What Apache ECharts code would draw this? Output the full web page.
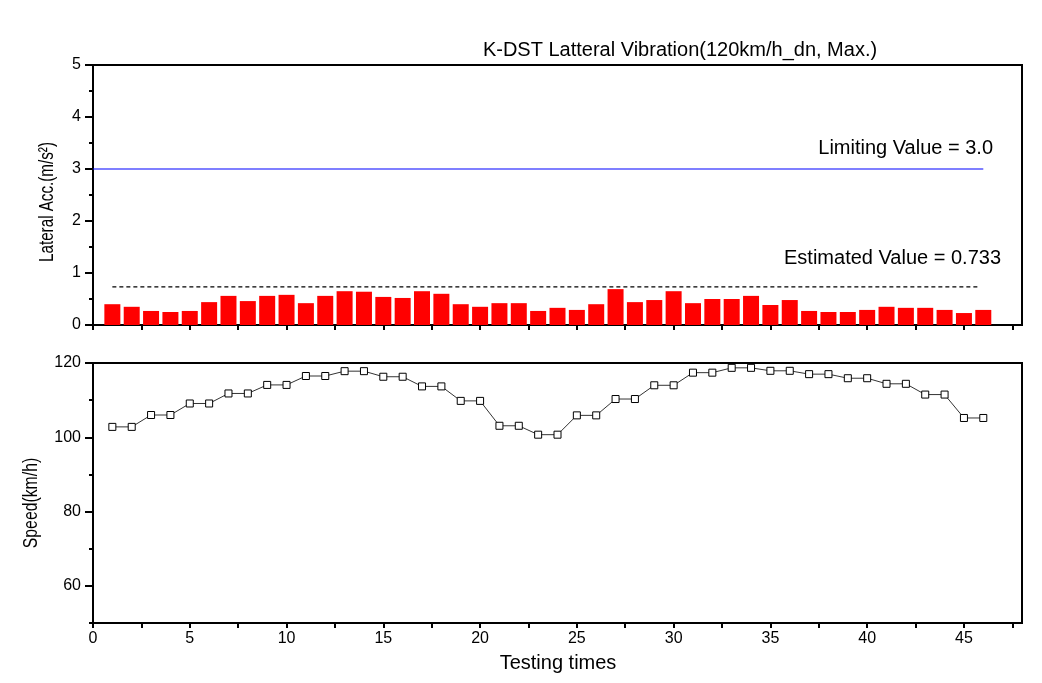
<!DOCTYPE html>
<html><head><meta charset="utf-8">
<script src="https://cdn.jsdelivr.net/npm/echarts@6/dist/echarts.min.js"></script>
<style>html,body{margin:0;padding:0;background:#fff}#c{width:1042px;height:683px}</style>
</head><body><div id="c"></div>
<script>
// ---- data ----
const testNo = [1,2,3,4,5,6,7,8,9,10,11,12,13,14,15,16,17,18,19,20,21,22,23,24,25,26,27,28,29,30,31,32,33,34,35,36,37,38,39,40,41,42,43,44,45,46];
const lateralAcc = [0.40,0.35,0.27,0.25,0.27,0.44,0.56,0.46,0.56,0.58,0.42,0.56,0.65,0.64,0.54,0.52,
  0.65,0.60,0.40,0.35,0.42,0.42,0.27,0.33,0.29,0.40,0.69,0.44,0.48,0.65,0.42,0.50,
  0.50,0.56,0.385,0.48,0.27,0.25,0.25,0.29,0.35,0.33,0.33,0.29,0.23,0.29];
const speed = [102.8,102.8,106.0,106.0,109.1,109.1,111.8,111.8,114.1,114.1,116.5,116.5,117.8,117.8,116.3,116.3,
  113.7,113.7,109.8,109.8,103.1,103.1,100.7,100.7,105.9,105.9,110.3,110.3,114.0,114.0,117.4,117.4,
  118.7,118.7,117.9,117.9,117.0,117.0,115.9,115.9,114.4,114.4,111.5,111.5,105.2,105.2];
const limitingValue = 3.0;
const limitingSpan = [0, 46];
const estimatedValue = 0.733;
const estimatedSpan = [1, 45.8];
const xLabelValues = [0,5,10,15,20,25,30,35,40,45];
const xTickValues = [0,2.5,5,7.5,10,12.5,15,17.5,20,22.5,25,27.5,30,32.5,35,37.5,40,42.5,45,47.5];
const accLabelValues = [0,1,2,3,4,5];
const speedLabelValues = [60,80,100,120];
const speedMinorTicks = [50,70,90,110];
const titleText = 'K-DST Latteral Vibration(120km/h_dn, Max.)';
const limitText = 'Limiting Value = ' + limitingValue.toFixed(1);
const estText = 'Estimated Value = ' + estimatedValue;

// ---- chart ----
const FONT = '"Liberation Sans", Arial, sans-serif';
const chart = echarts.init(document.getElementById('c'), null, {renderer: 'canvas'});
const axisLine = {show: true, lineStyle: {color: '#000', width: 2}};
const grids = [
  {left: 93, top: 65, width: 929, height: 260, show: true, borderColor: '#000', borderWidth: 2},
  {left: 93, top: 363, width: 929, height: 260, show: true, borderColor: '#000', borderWidth: 2}
];
const xAxes = [0, 1].map(i => ({
  type: 'value', gridIndex: i, min: 0, max: 48, interval: 2.5,
  axisLine: axisLine,
  axisTick: {show: true, customValues: xTickValues, length: 5, lineStyle: {color: '#000', width: 2}},
  axisLabel: {show: i === 1, customValues: xLabelValues, color: '#000', fontFamily: FONT, fontSize: 16, margin: 8},
  splitLine: {show: false}
}));
const yAxes = [
  {type: 'value', gridIndex: 0, min: 0, max: 5, interval: 1,
   axisLine: axisLine,
   axisTick: {show: true, length: 8, lineStyle: {color: '#000', width: 2}},
   minorTick: {show: true, splitNumber: 2, length: 4, lineStyle: {color: '#000', width: 2}},
   axisLabel: {color: '#000', fontFamily: FONT, fontSize: 16, margin: 12, customValues: accLabelValues},
   splitLine: {show: false}},
  {type: 'value', gridIndex: 1, min: 50, max: 120, interval: 10,
   axisLine: axisLine,
   axisTick: {show: true, customValues: speedLabelValues, length: 8, lineStyle: {color: '#000', width: 2}},
   axisLabel: {color: '#000', fontFamily: FONT, fontSize: 16, margin: 12, customValues: speedLabelValues},
   splitLine: {show: false}},
  {type: 'value', gridIndex: 1, min: 50, max: 120, interval: 10, position: 'left',
   axisLine: {show: false},
   axisTick: {show: true, customValues: speedMinorTicks, length: 4, lineStyle: {color: '#000', width: 2}},
   axisLabel: {show: false},
   splitLine: {show: false}}
];
const option = {
  backgroundColor: '#fff',
  animation: false,
  grid: grids,
  xAxis: xAxes,
  yAxis: yAxes,
  series: [
    {type: 'bar', xAxisIndex: 0, yAxisIndex: 0, barWidth: 16,
     data: testNo.map((n, i) => [n, lateralAcc[i]]),
     itemStyle: {color: '#ff0000'}},
    {type: 'line', name: 'limit', xAxisIndex: 0, yAxisIndex: 0, silent: true,
     data: limitingSpan.map(x => [x, limitingValue]),
     symbol: 'none', lineStyle: {color: '#0000ff', width: 1.2, type: 'solid'}, z: 3},
    {type: 'line', name: 'estimate', xAxisIndex: 0, yAxisIndex: 0, silent: true,
     data: estimatedSpan.map(x => [x, estimatedValue]),
     symbol: 'none', lineStyle: {color: '#000000', width: 1.2, type: [4, 3]}, z: 3},
    {type: 'line', xAxisIndex: 1, yAxisIndex: 1,
     data: testNo.map((n, i) => [n, speed[i]]),
     symbol: 'rect', symbolSize: 7, showSymbol: true,
     itemStyle: {color: '#fff', borderColor: '#000', borderWidth: 1},
     lineStyle: {color: '#333', width: 1}}
  ],
  graphic: [
    {type: 'text', x: 680, y: 50, style: {text: titleText, font: '20px ' + FONT, fill: '#000', textAlign: 'center', textVerticalAlign: 'middle'}},
    {type: 'text', x: 993, y: 148, style: {text: limitText, font: '20px ' + FONT, fill: '#000', textAlign: 'right', textVerticalAlign: 'middle'}},
    {type: 'text', x: 1001, y: 258, style: {text: estText, font: '20px ' + FONT, fill: '#000', textAlign: 'right', textVerticalAlign: 'middle'}},
    {type: 'text', x: 558, y: 663, style: {text: 'Testing times', font: '20px ' + FONT, fill: '#000', textAlign: 'center', textVerticalAlign: 'middle'}},
    {type: 'text', x: 47, y: 202, rotation: Math.PI / 2, scaleX: 0.76, style: {text: 'Lateral Acc.(m/s²)', font: '20px ' + FONT, fill: '#000', textAlign: 'center', textVerticalAlign: 'middle'}},
    {type: 'text', x: 31, y: 503, rotation: Math.PI / 2, scaleX: 0.79, style: {text: 'Speed(km/h)', font: '20px ' + FONT, fill: '#000', textAlign: 'center', textVerticalAlign: 'middle'}}
  ]
};
chart.setOption(option);
</script>
</body></html>
